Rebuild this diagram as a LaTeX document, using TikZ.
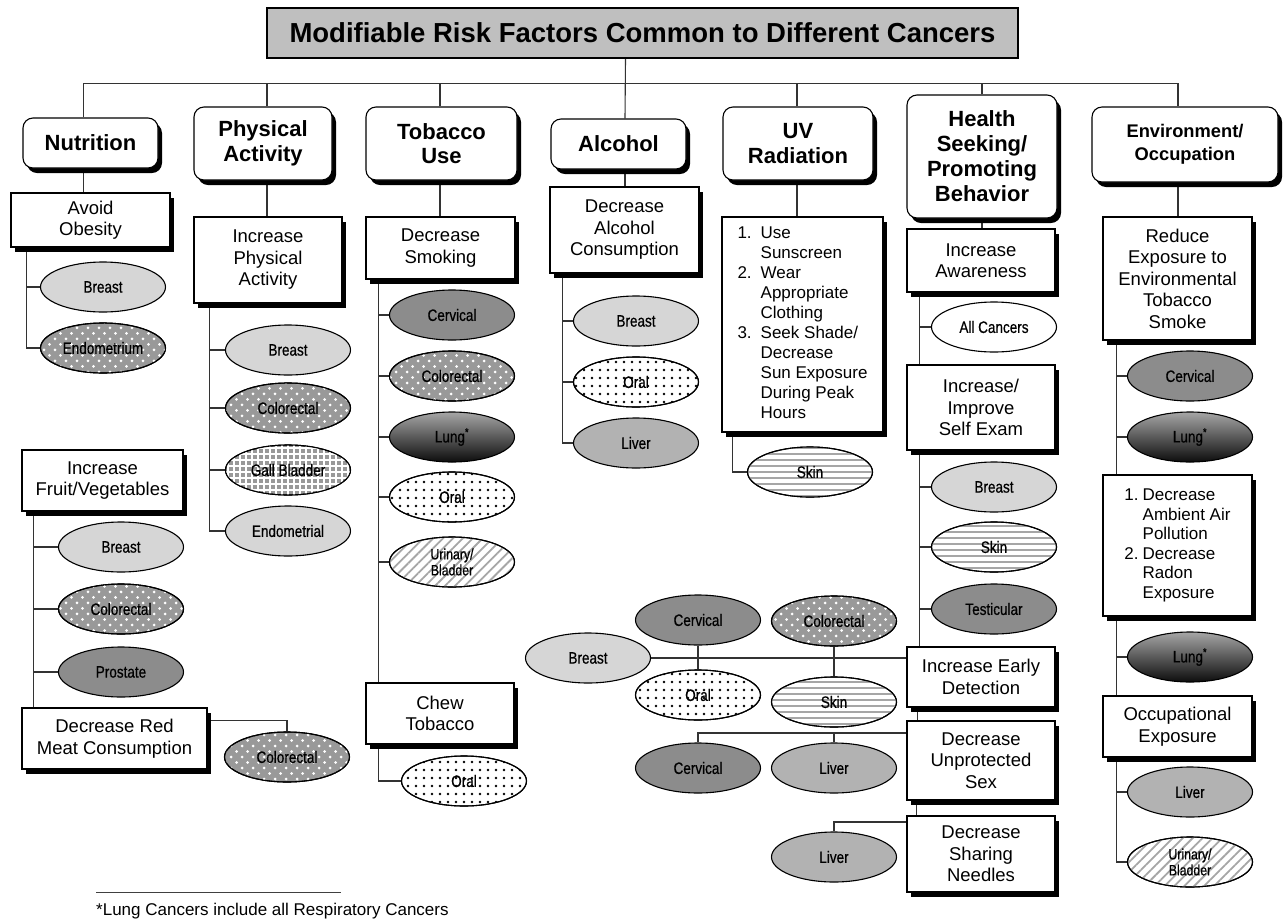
\documentclass[tikz,border=0pt]{standalone}
\usepackage{fontspec}
\setmainfont{Liberation Sans}
\newfontfamily\ellfont[FakeStretch=0.82, FakeBold=0.6]{Liberation Sans}
\usetikzlibrary{shapes.geometric,patterns.meta,shadows,backgrounds}
\definecolor{ttl}{gray}{0.75}
\definecolor{lgt}{gray}{0.84}
\definecolor{lvr}{gray}{0.70}
\definecolor{drk}{gray}{0.55}
\definecolor{mid}{gray}{0.60}
\definecolor{strp}{gray}{0.65}
\tikzset{
 ln/.style={draw=black!80, line width=1.1pt},
 shd/.style={drop shadow={shadow xshift=4pt, shadow yshift=-5pt, fill=black, opacity=1}},
 hdr/.style={draw, line width=1.1pt, rounded corners=10pt, fill=white, shd, align=center, inner sep=2pt, font=\bfseries\fontsize{22}{24.5}\selectfont},
 sub/.style={draw, line width=1.1pt, fill=white, shd, align=center, inner sep=2pt, font=\fontsize{18.5}{21.5}\selectfont},
 ell/.style={ellipse, draw, line width=1.1pt, minimum width=125pt, minimum height=50pt, inner sep=0pt, align=center, font=\ellfont\fontsize{16.5}{16}\selectfont},
 cLight/.style={ell, fill=lgt},
 cLiver/.style={ell, fill=lvr},
 cDark/.style={ell, fill=drk},
 cWhite/.style={ell, fill=white},
 cDots/.style={ell, fill=mid, postaction={pattern={Dots[radius=1.5pt, distance=11pt]}, pattern color=white}, postaction={pattern={Dots[radius=1.5pt, distance=11pt, xshift=5.5pt, yshift=5.5pt]}, pattern color=white}, postaction={draw, line width=1.1pt}},
 cGrid/.style={ell, fill=mid, postaction={pattern={Hatch[distance=6pt, line width=1.1pt]}, pattern color=white}, postaction={draw, line width=1.1pt}},
 cOral/.style={ell, fill=white, postaction={pattern={Dots[radius=1.3pt, distance=8pt]}, pattern color=black}, postaction={draw, line width=1.1pt}},
 cSkin/.style={ell, fill=white, postaction={pattern={Lines[angle=0, distance=6pt, line width=1.6pt]}, pattern color=strp}, postaction={draw, line width=1.1pt}},
 cUrin/.style={ell, fill=white, postaction={pattern={Lines[angle=45, distance=7pt, line width=1.8pt]}, pattern color=strp}, postaction={draw, line width=1.1pt}, font=\ellfont\fontsize{15}{16}\selectfont},
 cLung/.style={ell, top color=black!35, bottom color=black!95},
}
\begin{document}
\begin{tikzpicture}[x=1pt, y=-1pt]
\begin{scope}[on background layer]
\fill[white] (0,0) rectangle (1283,922);
\end{scope}
\useasboundingbox (0,0) rectangle (1283,922);

% title
\node[draw, line width=1.1pt, fill=ttl, minimum width=751pt, minimum height=50pt, inner sep=0pt, font=\bfseries\fontsize{27.5}{30}\selectfont] (title) at (642.5,33) {Modifiable Risk Factors Common to Different Cancers};

% headers
\node[hdr, minimum width=135pt, minimum height=50pt] (nut) at (90.5,143) {Nutrition};
\node[hdr, minimum width=138pt, minimum height=73pt] (phys) at (263,143.5) {Physical\\Activity};
\node[hdr, minimum width=151pt, minimum height=73pt] (tob) at (441.5,143.5) {Tobacco\\Use};
\node[hdr, minimum width=135pt, minimum height=50pt] (alc) at (618.5,144) {Alcohol};
\node[hdr, minimum width=150pt, minimum height=73pt] (uv) at (798,143.5) {UV\\Radiation};
\node[hdr, minimum width=150pt, minimum height=123pt, font=\bfseries\fontsize{22}{25}\selectfont] (hea) at (982,156.5) {Health\\Seeking/\\Promoting\\Behavior};
\node[hdr, minimum width=186pt, minimum height=75pt, font=\bfseries\fontsize{18.3}{23}\selectfont] (env) at (1185,144.5) {Environment/\\Occupation};

% second-level boxes
\node[sub, minimum width=159pt, minimum height=54pt] (obes) at (90.5,220) {Avoid\\Obesity};
\node[sub, minimum width=148pt, minimum height=86pt] (ipa) at (268,260) {Increase\\Physical\\Activity};
\node[sub, minimum width=149pt, minimum height=62pt] (smok) at (440.5,248) {Decrease\\Smoking};
\node[sub, minimum width=149pt, minimum height=86pt] (dalc) at (624.5,230) {Decrease\\Alcohol\\Consumption};
\node[sub, minimum width=161pt, minimum height=215pt, align=left, font=\fontsize{17}{20}\selectfont] (uvb) at (802.5,324.5) {\begin{tabular}{@{}l@{\hspace{9pt}}l@{}}1. & Use\\ & Sunscreen\\2. & Wear\\ & Appropriate\\ & Clothing\\3. & Seek Shade/\\ & Decrease\\ & Sun Exposure\\ & During Peak\\ & Hours\end{tabular}};
\node[sub, minimum width=148pt, minimum height=63pt] (aware) at (981,260.5) {Increase\\Awareness};
\node[sub, minimum width=148pt, minimum height=85pt] (self) at (981,407.5) {Increase/\\Improve\\Self Exam};
\node[sub, minimum width=148pt, minimum height=60pt] (early) at (981,677) {Increase Early\\Detection};
\node[sub, minimum width=148pt, minimum height=79pt] (unprot) at (981,760.5) {Decrease\\Unprotected\\Sex};
\node[sub, minimum width=148pt, minimum height=76pt] (needle) at (981,854) {Decrease\\Sharing\\Needles};
\node[sub, minimum width=149pt, minimum height=123pt] (reduce) at (1177.5,278.5) {Reduce\\Exposure to\\Environmental\\Tobacco\\Smoke};
\node[sub, minimum width=149pt, minimum height=141pt, align=left, font=\fontsize{17}{19.5}\selectfont] (ambient) at (1177.5,545.5) {\begin{tabular}{@{}l@{\hspace{4pt}}l@{}}1. & Decrease\\ & Ambient Air\\ & Pollution\\2. & Decrease\\ & Radon\\ & Exposure\end{tabular}};
\node[sub, minimum width=149pt, minimum height=61pt] (occ) at (1177.5,726.5) {Occupational\\Exposure};
\node[sub, minimum width=161pt, minimum height=61pt] (fruit) at (102.5,480.5) {Increase\\Fruit/Vegetables};
\node[sub, minimum width=185pt, minimum height=61pt] (redmeat) at (114.5,738.5) {Decrease Red\\Meat Consumption};
\node[sub, minimum width=148pt, minimum height=61pt] (chew) at (440,713.5) {Chew\\Tobacco};

% ellipses
\node[cLight] (ob1) at (103,287) {Breast};
\node[cDots] (ob2) at (103,348) {Endometrium};
\node[cLight] (pa1) at (288,350) {Breast};
\node[cDots] (pa2) at (288,408) {Colorectal};
\node[cGrid] (pa3) at (288,470) {Gall Bladder};
\node[cLight] (pa4) at (288,531) {Endometrial};
\node[cLight] (fv1) at (121,547) {Breast};
\node[cDots] (fv2) at (121,609) {Colorectal};
\node[cDark] (fv3) at (121,672) {Prostate};
\node[cDots] (rm1) at (287,757) {Colorectal};
\node[cDark] (tb1) at (452,315) {Cervical};
\node[cDots] (tb2) at (452,376) {Colorectal};
\node[cLung] (tb3) at (452,437) {Lung\textsuperscript{*}};
\node[cOral] (tb4) at (452,497) {Oral};
\node[cUrin] (tb5) at (452,562) {Urinary/\\Bladder};
\node[cOral] (ch1) at (464,781) {Oral};
\node[cLight] (al1) at (636,321) {Breast};
\node[cOral] (al2) at (636,382) {Oral};
\node[cLiver] (al3) at (636,443) {Liver};
\node[cSkin] (uv1) at (810,472) {Skin};
\node[cWhite] (hc1) at (994,327) {All Cancers};
\node[cLight] (hc2) at (994,487) {Breast};
\node[cSkin] (hc3) at (994,547) {Skin};
\node[cDark] (hc4) at (994,609) {Testicular};
\node[cLight] (ed1) at (588,658) {Breast};
\node[cDark] (ed2) at (698,620) {Cervical};
\node[cOral] (ed3) at (698,695) {Oral};
\node[cDots] (ed4) at (834,621) {Colorectal};
\node[cSkin] (ed5) at (834,702) {Skin};
\node[cDark] (us1) at (698,768) {Cervical};
\node[cLiver] (us2) at (834,768) {Liver};
\node[cLiver] (nd1) at (834,857) {Liver};
\node[cDark] (ev1) at (1190,376) {Cervical};
\node[cLung] (ev2) at (1190,437) {Lung\textsuperscript{*}};
\node[cLung] (ev3) at (1190,657) {Lung\textsuperscript{*}};
\node[cLiver] (ev4) at (1190,792) {Liver};
\node[cUrin] (ev5) at (1190,862) {Urinary/\\Bladder};

% footnote
\node[anchor=west, inner sep=0pt, font=\fontsize{17}{19}\selectfont] (fn) at (96,911) {*Lung Cancers include all Respiratory Cancers};
\draw[line width=1pt, black!75] ([yshift=10pt]fn.north west) -- ++(245,0);

\begin{scope}[on background layer]
% bus
\coordinate (bus) at ([yshift=-25pt]title.south);
\draw[ln] ([xshift=-7pt]nut.north) -- ([xshift=-7pt]nut.north |- bus) -- ([xshift=-7pt]env.north |- bus) -- ([xshift=-7pt]env.north);
\draw[ln] ([xshift=-17pt]title.south) -- ([xshift=6.5pt]alc.north);
\draw[ln] ([xshift=4pt]phys.north) -- ([xshift=4pt]phys.north |- bus);
\draw[ln] ([xshift=-1.5pt]tob.north) -- ([xshift=-1.5pt]tob.north |- bus);
\draw[ln] ([xshift=-1pt]uv.north) -- ([xshift=-1pt]uv.north |- bus);
\draw[ln] (hea.north) -- (hea.north |- bus);
% header to boxes
\draw[ln] ([xshift=-7pt]nut.south) -- ([xshift=-7pt]nut.south |- obes.north);
\draw[ln] ([xshift=4pt]phys.south) -- ([xshift=4pt]phys.south |- ipa.north);
\draw[ln] ([xshift=-1.5pt]tob.south) -- ([xshift=-1.5pt]tob.south |- smok.north);
\draw[ln] ([xshift=6.5pt]alc.south) -- ([xshift=6.5pt]alc.south |- dalc.north);
\draw[ln] ([xshift=-1pt]uv.south) -- ([xshift=-1pt]uv.south |- uvb.north);
\draw[ln] (hea.south) -- (hea.south |- aware.north);
\draw[ln] ([xshift=-7pt]env.south) -- ([xshift=-7pt]env.south |- reduce.north);
% nutrition
\coordinate (nt) at ([xshift=16pt]obes.south west);
\draw[ln] (nt) |- (ob2.west);
\draw[ln] (ob1.west) -- (ob1.west -| nt);
\coordinate (ft) at ([xshift=12pt]fruit.south west);
\draw[ln] (ft) -- (ft |- redmeat.north);
\draw[ln] (fv1.west) -- (fv1.west -| ft);
\draw[ln] (fv2.west) -- (fv2.west -| ft);
\draw[ln] (fv3.west) -- (fv3.west -| ft);
\draw[ln] ([yshift=18pt]redmeat.east) -| (rm1.north);
% physical
\coordinate (pt) at ([xshift=16pt]ipa.south west);
\draw[ln] (pt) |- (pa4.west);
\draw[ln] (pa1.west) -- (pa1.west -| pt);
\draw[ln] (pa2.west) -- (pa2.west -| pt);
\draw[ln] (pa3.west) -- (pa3.west -| pt);
% tobacco
\coordinate (tt) at ([xshift=13pt]smok.south west);
\draw[ln] (tt) -- (tt |- chew.north);
\draw[ln] (tb1.west) -- (tb1.west -| tt);
\draw[ln] (tb2.west) -- (tb2.west -| tt);
\draw[ln] (tb3.west) -- (tb3.west -| tt);
\draw[ln] (tb4.west) -- (tb4.west -| tt);
\draw[ln] (tb5.west) -- (tb5.west -| tt);
\coordinate (cw) at ([xshift=13pt]chew.south west);
\draw[ln] (cw) |- (ch1.west);
% alcohol
\coordinate (alt) at ([xshift=13pt]dalc.south west);
\draw[ln] (alt) |- (al3.west);
\draw[ln] (al1.west) -- (al1.west -| alt);
\draw[ln] (al2.west) -- (al2.west -| alt);
% uv
\coordinate (ut) at ([xshift=11pt]uvb.south west);
\draw[ln] (ut) |- (uv1.west);
% health
\coordinate (h1) at ([xshift=13pt]aware.south west);
\draw[ln] (h1) -- (h1 |- self.north);
\draw[ln] (hc1.west) -- (hc1.west -| h1);
\coordinate (h2) at ([xshift=13pt]self.south west);
\draw[ln] (h2) -- (h2 |- early.north);
\draw[ln] (hc2.west) -- (hc2.west -| h2);
\draw[ln] (hc3.west) -- (hc3.west -| h2);
\draw[ln] (hc4.west) -- (hc4.west -| h2);
\coordinate (h3) at ([xshift=11pt]early.south west);
\draw[ln] (h3) -- (h3 |- unprot.north);
\coordinate (h4) at ([xshift=10pt]unprot.south west);
\draw[ln] (h4) -- (h4 |- needle.north);
\draw[ln] ([yshift=19pt]early.west) -- (ed1.east);
\draw[ln] (ed2.south) -- (ed3.north);
\draw[ln] (ed4.south) -- (ed5.north);
\coordinate (u0) at ([yshift=27.5pt]unprot.west);
\draw[ln] (u0) -| (us1.north);
\draw[ln] (us2.north) -- (us2.north |- u0);
\coordinate (n0) at ([yshift=32pt]needle.west);
\draw[ln] (n0) -| (nd1.north);
% environment
\coordinate (et) at ([xshift=14pt]reduce.south west);
\draw[ln] (et) -- (et |- ambient.north);
\draw[ln] (ev1.west) -- (ev1.west -| et);
\draw[ln] (ev2.west) -- (ev2.west -| et);
\coordinate (et2) at ([xshift=14pt]ambient.south west);
\draw[ln] (et2) -- (et2 |- occ.north);
\draw[ln] (ev3.west) -- (ev3.west -| et2);
\coordinate (et3) at ([xshift=14pt]occ.south west);
\draw[ln] (et3) |- (ev5.west);
\draw[ln] (ev4.west) -- (ev4.west -| et3);
\end{scope}
\end{tikzpicture}
\end{document}
